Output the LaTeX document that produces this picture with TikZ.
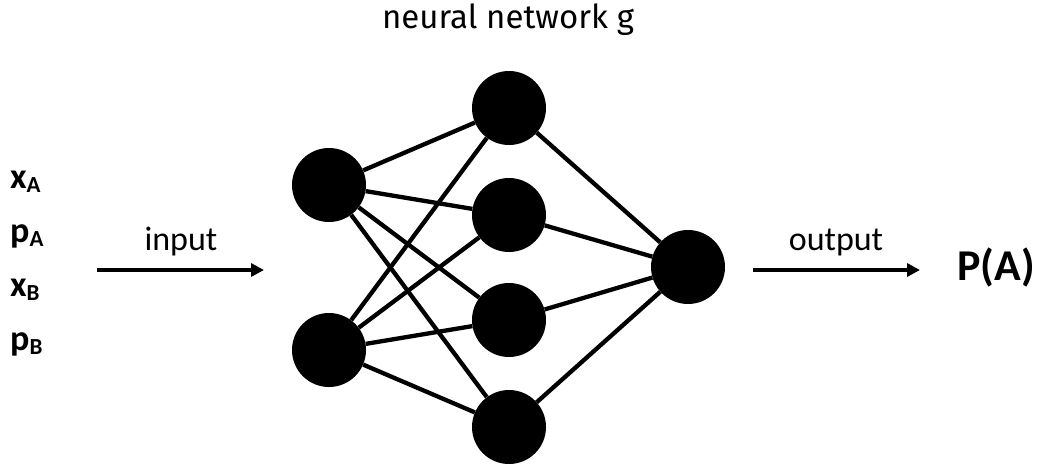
\documentclass[tikz,border=0pt]{standalone}
\usepackage{fontspec}
\setmainfont{Carlito}
\newfontfamily\titlefont{Fira Sans}
\usetikzlibrary{arrows.meta}
\tikzset{
  neuron/.style={circle, fill=black, draw=none, minimum size=74pt, inner sep=0pt},
  link/.style={line width=4.3pt, black},
  flow/.style={line width=4pt, -{Triangle[length=13pt,width=13pt]}},
  varlabel/.style={anchor=base west, inner sep=0pt, font=\fontsize{36}{40}\selectfont\bfseries},
  caption/.style={anchor=base, inner sep=0pt, font=\fontsize{34}{40}\selectfont},
}
\newcommand{\subvar}[2]{#1\raisebox{-4pt}{\fontsize{23}{23}\selectfont #2}}
\begin{document}
\begin{tikzpicture}[x=1pt, y=-1pt]
  \useasboundingbox (0,0) rectangle (1043,466);

  % input layer
  \node[neuron] (i1) at (329,185) {};
  \node[neuron] (i2) at (329,350) {};
  % hidden layer
  \node[neuron] (h1) at (509,108) {};
  \node[neuron] (h2) at (509,215) {};
  \node[neuron] (h3) at (509,320) {};
  \node[neuron] (h4) at (509,427) {};
  % output layer
  \node[neuron] (o) at (688,267) {};

  % weights
  \foreach \a in {i1,i2} {
    \foreach \b in {h1,h2,h3,h4} {
      \draw[link] (\a) -- (\b);
    }
  }
  \foreach \b in {h1,h2,h3,h4} {
    \draw[link] (\b) -- (o);
  }

  % title
  \node[caption, font=\titlefont\fontsize{33}{36}\selectfont] (title) at (508,28) {neural network g};

  % input variables
  \node[varlabel] (xa) at (10,188) {\subvar{x}{A}};
  \node[varlabel] (pa) at (10,242) {\subvar{p}{A}};
  \node[varlabel] (xb) at (10,296) {\subvar{x}{B}};
  \node[varlabel] (pb) at (10,350) {\subvar{p}{B}};

  % input arrow
  \coordinate (inS) at (97,270);
  \coordinate (inE) at (264,270);
  \draw[flow] (inS) -- (inE);
  \node[caption] (inlab) at (181,250) {input};

  % output arrow
  \coordinate (outS) at (753,270);
  \coordinate (outE) at (920,270);
  \draw[flow] (outS) -- (outE);
  \node[caption] (outlab) at (836,250) {output};

  % result
  \node[varlabel, font=\fontsize{44}{48}\selectfont\bfseries] (res) at (957,280) {P(A)};
\end{tikzpicture}
\end{document}
